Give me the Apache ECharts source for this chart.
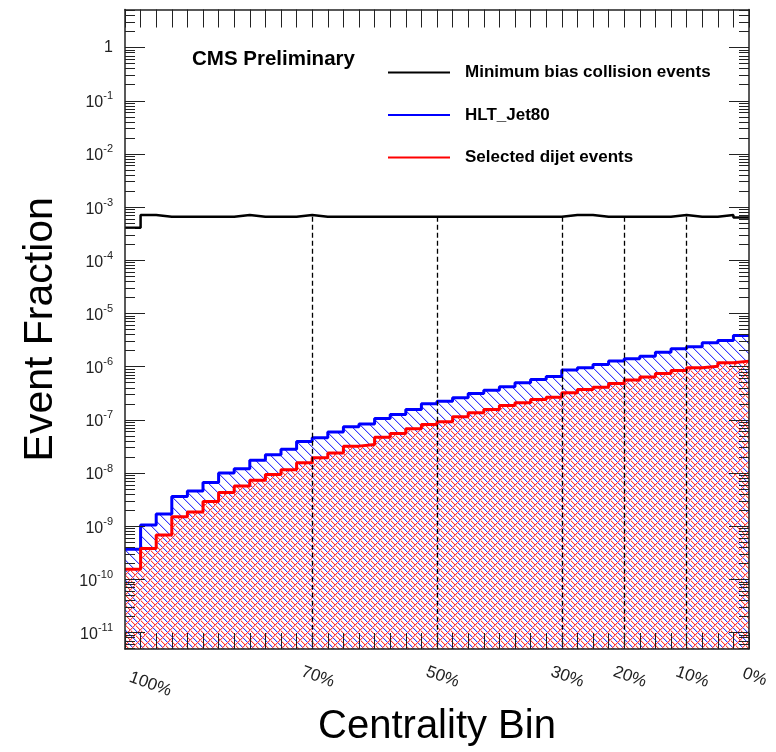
<!DOCTYPE html>
<html><head><meta charset="utf-8">
<script src="https://cdn.jsdelivr.net/npm/echarts@6/dist/echarts.min.js"></script>
<style>html,body{margin:0;padding:0;background:#fff}#c{width:776px;height:752px}</style>
</head><body><div id="c"></div>
<script>
// ---- data ----
const binCount = 40; // centrality bins of 2.5%, drawn from 100% (left) to 0% (right)
const centralityTickLabels = [100, 70, 50, 30, 20, 10, 0];
const dashedCentralities = [70, 50, 30, 20, 10];
const yDecades = [-11, -10, -9, -8, -7, -6, -5, -4, -3, -2, -1, 0];
const minBias = [4.1e-4, 7.1e-4, 6.6e-4, 6.6e-4, 6.6e-4, 6.6e-4, 6.6e-4, 7.1e-4, 6.6e-4, 6.6e-4,
  6.6e-4, 7.1e-4, 6.6e-4, 6.6e-4, 6.6e-4, 6.6e-4, 6.6e-4, 6.6e-4, 6.6e-4, 6.6e-4,
  6.6e-4, 6.6e-4, 6.6e-4, 6.6e-4, 6.6e-4, 6.6e-4, 6.6e-4, 6.6e-4, 7.1e-4, 7.1e-4,
  6.6e-4, 6.6e-4, 6.6e-4, 6.6e-4, 6.6e-4, 7.1e-4, 6.6e-4, 6.6e-4, 7.1e-4, 6.4e-4];
const hltJet80 = [3.7e-10, 1.05e-9, 1.7e-9, 3.6e-9, 4.6e-9, 6.6e-9, 1.0e-8, 1.2e-8, 1.73e-8, 2.2e-8,
  2.8e-8, 3.9e-8, 4.6e-8, 5.9e-8, 7.4e-8, 8.3e-8, 1.06e-7, 1.26e-7, 1.57e-7, 2.0e-7,
  2.24e-7, 2.6e-7, 3.13e-7, 3.6e-7, 4.2e-7, 5.0e-7, 5.7e-7, 6.5e-7, 8.6e-7, 9.5e-7,
  1.10e-6, 1.27e-6, 1.40e-6, 1.57e-6, 1.87e-6, 2.16e-6, 2.36e-6, 2.8e-6, 3.1e-6, 3.85e-6];
const selectedDijet = [1.55e-10, 3.8e-10, 6.8e-10, 1.5e-9, 1.85e-9, 2.9e-9, 4.3e-9, 5.7e-9, 7.3e-9, 9.4e-9,
  1.15e-8, 1.56e-8, 1.94e-8, 2.37e-8, 3.2e-8, 3.45e-8, 4.7e-8, 5.5e-8, 6.8e-8, 8.2e-8,
  9.2e-8, 1.14e-7, 1.36e-7, 1.57e-7, 1.86e-7, 2.09e-7, 2.42e-7, 2.67e-7, 3.23e-7, 3.72e-7,
  4.1e-7, 4.8e-7, 5.6e-7, 6.4e-7, 7.4e-7, 8.5e-7, 9.5e-7, 1.02e-6, 1.18e-6, 1.27e-6];
const seriesNames = ['Minimum bias collision events', 'HLT_Jet80', 'Selected dijet events'];
const yMin = 4.9e-12, yMax = 5.2;

// ---- helpers ----
const FONT = 'Liberation Sans, Arial, Helvetica, sans-serif';
const centToX = c => (100 - c) / 2.5;
const stepData = arr => { const d = arr.map((v, i) => [i, v]); d.push([arr.length, arr[arr.length - 1]]); return d; };
const majorVals = yDecades.map(k => Math.pow(10, k));
const minorVals = [];
for (let k = -12; k <= 0; k++) for (let m = 2; m <= 9; m++) { const v = m * Math.pow(10, k); if (v > yMin && v < yMax) minorVals.push(v); }
const binEdges = []; for (let i = 0; i <= binCount; i++) binEdges.push(i);

// opaque hatch tiles drawn pixel by pixel (white background)
function hatchTile(withRed) {
  const S = 10;
  const c = document.createElement('canvas'); c.width = c.height = S;
  const g = c.getContext('2d');
  g.fillStyle = '#ffffff'; g.fillRect(0, 0, S, S);
  const px = (x, y, col) => { g.fillStyle = col; g.fillRect(((x % S) + S) % S, ((y % S) + S) % S, 1, 1); };
  for (let i = 0; i < S; i++) {
    px(i + 5, i, '#3c3cff'); px(i + 6, i, '#c4c4ff');
    if (withRed) {
      px(i, i, '#ff3c3c'); px(i + 1, i, '#ffc4c4');
      px(S - 1 - i, i, '#ff3c3c'); px(S - i, i, '#ffc4c4');
    }
  }
  return { image: c, repeat: 'repeat' };
}
const bluePattern = hatchTile(false);
const redPattern = hatchTile(true);

const dashed = dashedCentralities.map(c => {
  const x = centToX(c);
  const top = Math.min(minBias[x - 1], minBias[x]);
  return [{ coord: [x, top] }, { coord: [x, yMin] }];
});

const frame = { show: true, lineStyle: { color: '#222', width: 1.5 } };
const tickStyle = { color: '#222', width: 1 };

function yAx(pos, major, withLabel) {
  return {
    type: 'log', logBase: 10, min: yMin, max: yMax, position: pos, z: 10,
    axisLine: major ? frame : { show: false },
    axisTick: { show: true, inside: true, length: major ? 20 : 10, customValues: major ? majorVals : minorVals, lineStyle: tickStyle },
    axisLabel: withLabel ? {
      show: true, margin: 12, customValues: majorVals, color: '#222', fontFamily: FONT,
      formatter: v => { const k = Math.round(Math.log10(v)); return k === 0 ? '{b|1}' : '{b|10}{s|' + k + '}'; },
      rich: {
        b: { fontSize: 16, fontFamily: FONT, color: '#222', lineHeight: 16, verticalAlign: 'bottom' },
        s: { fontSize: 11, fontFamily: FONT, color: '#222', lineHeight: 20, verticalAlign: 'top' }
      }
    } : { show: false },
    splitLine: { show: false },
    name: withLabel ? 'Event Fraction' : '', nameLocation: 'middle', nameGap: 64,
    nameTextStyle: { fontSize: 41, fontFamily: FONT, color: '#000' }
  };
}

const chart = echarts.init(document.getElementById('c'));
chart.setOption({
  animation: false,
  backgroundColor: '#fff',
  grid: { left: 125, right: 27, top: 9.5, bottom: 102 },
  legend: {
    data: seriesNames, orient: 'vertical', left: 387, top: 64, padding: 0,
    itemWidth: 62, itemHeight: 14, itemGap: 25.5,
    itemStyle: { opacity: 0 },
    textStyle: { fontSize: 17, fontWeight: 'bold', fontFamily: FONT, color: '#000', padding: [0, 0, 0, 10] }
  },
  graphic: [{ type: 'text', left: 192, top: 49, style: { text: 'CMS Preliminary', font: 'bold 20.5px ' + FONT, fill: '#000' } }],
  xAxis: [{
    type: 'value', min: 0, max: binCount, interval: 1, position: 'bottom', z: 10,
    axisLine: frame,
    axisTick: { show: true, inside: true, length: 16, customValues: binEdges, lineStyle: tickStyle },
    axisLabel: {
      show: true, customValues: centralityTickLabels.map(centToX), rotate: -20, align: 'center', verticalAlign: 'middle',
      margin: 26, fontSize: 16, fontFamily: FONT, color: '#222',
      formatter: v => { const c = 100 - v * 2.5; return (c === 100 ? '{p|' : '{n|') + c + '%}'; },
      rich: { n: { fontSize: 17, fontFamily: FONT, color: '#222', padding: [0, 0, 0, 12] },
              p: { fontSize: 17, fontFamily: FONT, color: '#222', padding: [0, 0, 0, 54] } }
    },
    splitLine: { show: false },
    name: 'Centrality Bin', nameLocation: 'middle', nameGap: 58,
    nameTextStyle: { fontSize: 40, fontFamily: FONT, color: '#000' }
  }, {
    type: 'value', min: 0, max: binCount, interval: 1, position: 'top', z: 10,
    axisLine: frame,
    axisTick: { show: true, inside: true, length: 18, customValues: binEdges, lineStyle: tickStyle },
    axisLabel: { show: false }, splitLine: { show: false }
  }],
  yAxis: [yAx('left', true, true), yAx('left', false, false), yAx('right', true, false), yAx('right', false, false)],
  series: [{
    name: seriesNames[1], type: 'line', step: 'end', data: stepData(hltJet80), symbol: 'none', z: 3,
    lineStyle: { color: '#0000ff', width: 3 }, itemStyle: { color: '#0000ff' },
    areaStyle: { color: bluePattern, origin: 'start', opacity: 1 }
  }, {
    name: seriesNames[2], type: 'line', step: 'end', data: stepData(selectedDijet), symbol: 'none', z: 4,
    lineStyle: { color: '#ff0000', width: 3 }, itemStyle: { color: '#ff0000' },
    areaStyle: { color: redPattern, origin: 'start', opacity: 1 }
  }, {
    name: seriesNames[0], type: 'line', step: 'end', data: stepData(minBias), symbol: 'none', z: 5,
    lineStyle: { color: '#000', width: 2.5 }, itemStyle: { color: '#000' },
    markLine: { silent: true, symbol: 'none', label: { show: false },
      lineStyle: { color: '#000', type: [5, 3], width: 1.3 }, data: dashed }
  }]
});
</script></body></html>
